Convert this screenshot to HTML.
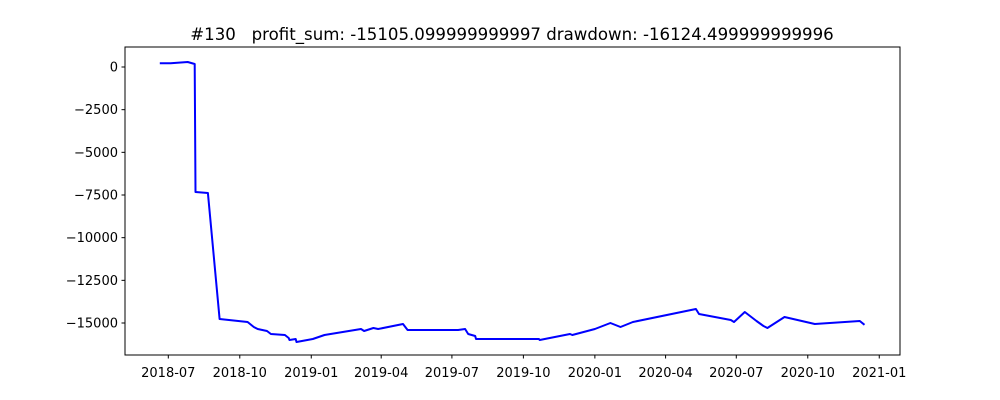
<!DOCTYPE html>
<html><head><meta charset="utf-8"><style>
html,body{margin:0;padding:0;background:#fff;}
svg{display:block;font-family:"DejaVu Sans","Liberation Sans",sans-serif;}
</style></head><body>
<svg id="chart" width="1000" height="400">
<text x="512" y="40" text-anchor="middle" font-size="16.6" style="white-space:pre">#130   profit_sum: -15105.099999999997 drawdown: -16124.499999999996</text>
<g id="grid"></g>
<polyline id="line" fill="none" stroke="#0000ff" stroke-width="2" stroke-linejoin="round"></polyline>
<rect x="125" y="47" width="775" height="308" fill="none" stroke="#000" stroke-width="1"></rect>
</svg>
<script>
const dates = ["2018-06-20","2018-07-04","2018-07-26","2018-08-04","2018-08-05","2018-08-21","2018-09-05","2018-10-11","2018-10-19","2018-10-24","2018-11-05","2018-11-10","2018-11-28","2018-12-03","2018-12-04","2018-12-12","2018-12-13","2019-01-03","2019-01-18","2019-03-06","2019-03-10","2019-03-22","2019-03-28","2019-04-29","2019-05-05","2019-07-09","2019-07-18","2019-07-22","2019-07-31","2019-08-01","2019-10-03","2019-10-21","2019-10-22","2019-11-30","2019-12-03","2020-01-01","2020-01-21","2020-02-03","2020-02-19","2020-05-10","2020-05-14","2020-06-24","2020-06-28","2020-07-12","2020-07-27","2020-08-05","2020-08-10","2020-09-01","2020-10-10","2020-12-07","2020-12-13"];
const values = [217,217,293,176,-7324,-7383,-14765,-14941,-15234,-15351,-15468,-15644,-15703,-15878,-15995,-15937,-16113,-15937,-15703,-15351,-15468,-15292,-15351,-15058,-15410,-15410,-15351,-15644,-15761,-15937,-15937,-15937,-15995,-15644,-15703,-15351,-14999,-15234,-14941,-14179,-14472,-14824,-14941,-14355,-14882,-15175,-15292,-14648,-15058,-14882,-15105];
const yTicks = [0,-2500,-5000,-7500,-10000,-12500,-15000];
const xTicks = ["2018-07","2018-10","2019-01","2019-04","2019-07","2019-10","2020-01","2020-04","2020-07","2020-10","2021-01"];

const NS="http://www.w3.org/2000/svg";
const base=Date.UTC(2018,6,1);
function dayOf(s){const p=s.split("-");return (Date.UTC(+p[0],+p[1]-1,p[2]?+p[2]:1)-base)/86400000;}
function xs(s){return 168.3+dayOf(s)*0.777;}
function ys(v){return 67-v*0.017067;}
const g=document.getElementById("grid");
yTicks.forEach(v=>{
  const y=ys(v);
  const l=document.createElementNS(NS,"line");
  l.setAttribute("x1",121.5);l.setAttribute("x2",125);l.setAttribute("y1",y);l.setAttribute("y2",y);l.setAttribute("stroke","#000");
  
  
  g.appendChild(l);
  const t=document.createElementNS(NS,"text");
  t.setAttribute("x",118);t.setAttribute("y",y+4.5);t.setAttribute("text-anchor","end");t.setAttribute("font-size","13");
  t.textContent=(v<0?"\u2212"+(-v):String(v));
  
  
  g.appendChild(t);
});
xTicks.forEach(s=>{
  const x=xs(s);
  const l=document.createElementNS(NS,"line");
  l.setAttribute("x1",x);l.setAttribute("x2",x);l.setAttribute("y1",355);l.setAttribute("y2",358.5);l.setAttribute("stroke","#000");
  
  
  g.appendChild(l);
  const t=document.createElementNS(NS,"text");
  t.setAttribute("x",x);t.setAttribute("y",377);t.setAttribute("text-anchor","middle");t.setAttribute("font-size","13");
  t.textContent=s;
  
  
  g.appendChild(t);
});
document.getElementById("line").setAttribute("points",dates.map((d,i)=>xs(d).toFixed(1)+","+ys(values[i]).toFixed(1)).join(" "));
</script>
</body></html>
